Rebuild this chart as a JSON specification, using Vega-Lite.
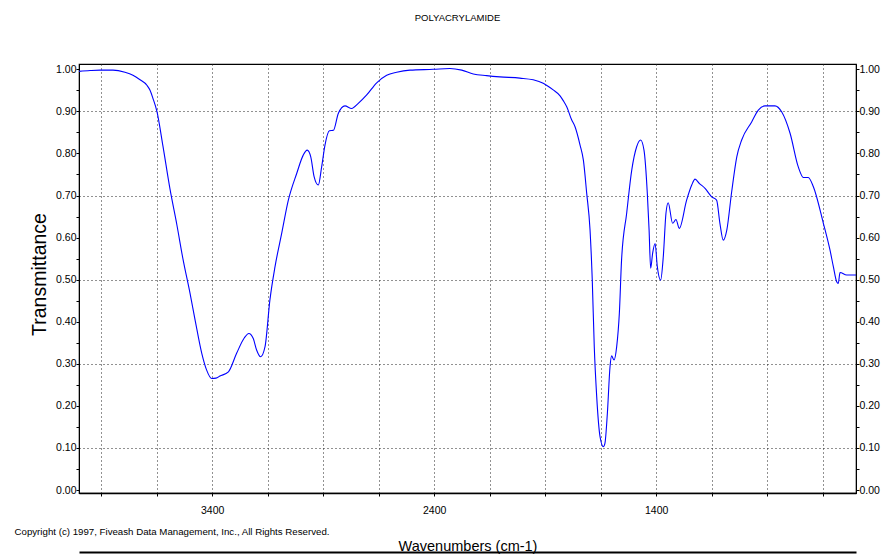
{
  "$schema": "https://vega.github.io/schema/vega-lite/v6.json",
  "width": 777,
  "height": 429,
  "autosize": {"type": "none"},
  "padding": {"left": 79, "top": 64, "right": 29, "bottom": 61},
  "background": "white",
  "title": {
    "text": "POLYACRYLAMIDE",
    "anchor": "middle",
    "frame": "group",
    "orient": "top",
    "baseline": "alphabetic",
    "offset": 34,
    "dx": -10,
    "font": "Liberation Sans",
    "fontSize": 9.5,
    "fontWeight": "normal",
    "color": "#000"
  },
  "config": {
    "view": {"stroke": "#000", "strokeWidth": 1.2},
    "axis": {"labelFont": "Liberation Sans", "labelFontSize": 10.5, "labelColor": "#000", "tickColor": "#000", "domainColor": "#000", "titleColor": "#000", "titleFontWeight": "normal"}
  },
  "data": {
    "values": [
      {"w": 4000, "t": 0.995}, {"w": 3950, "t": 0.997}, {"w": 3905, "t": 0.998}, {"w": 3847, "t": 0.998},
      {"w": 3793, "t": 0.993}, {"w": 3757, "t": 0.986}, {"w": 3725, "t": 0.975}, {"w": 3694, "t": 0.962},
      {"w": 3680, "t": 0.95}, {"w": 3667, "t": 0.931}, {"w": 3649, "t": 0.9}, {"w": 3622, "t": 0.818},
      {"w": 3590, "t": 0.715}, {"w": 3559, "t": 0.63}, {"w": 3532, "t": 0.55}, {"w": 3500, "t": 0.468},
      {"w": 3477, "t": 0.404}, {"w": 3447, "t": 0.325}, {"w": 3425, "t": 0.285}, {"w": 3402, "t": 0.265},
      {"w": 3383, "t": 0.266}, {"w": 3365, "t": 0.271}, {"w": 3327, "t": 0.281}, {"w": 3290, "t": 0.325},
      {"w": 3255, "t": 0.362}, {"w": 3235, "t": 0.372}, {"w": 3215, "t": 0.36}, {"w": 3200, "t": 0.333}, {"w": 3182, "t": 0.317},
      {"w": 3162, "t": 0.341}, {"w": 3140, "t": 0.452}, {"w": 3117, "t": 0.531}, {"w": 3087, "t": 0.61},
      {"w": 3057, "t": 0.689}, {"w": 3019, "t": 0.753}, {"w": 2990, "t": 0.796}, {"w": 2972, "t": 0.808},
      {"w": 2956, "t": 0.792}, {"w": 2941, "t": 0.745}, {"w": 2922, "t": 0.725}, {"w": 2907, "t": 0.768},
      {"w": 2892, "t": 0.82}, {"w": 2872, "t": 0.854}, {"w": 2854, "t": 0.855}, {"w": 2832, "t": 0.895},
      {"w": 2802, "t": 0.913}, {"w": 2772, "t": 0.907}, {"w": 2742, "t": 0.919}, {"w": 2704, "t": 0.939},
      {"w": 2659, "t": 0.968}, {"w": 2614, "t": 0.986}, {"w": 2569, "t": 0.993}, {"w": 2509, "t": 0.998},
      {"w": 2404, "t": 1.0}, {"w": 2329, "t": 1.002}, {"w": 2276, "t": 0.998}, {"w": 2224, "t": 0.989},
      {"w": 2164, "t": 0.985}, {"w": 2104, "t": 0.982}, {"w": 2014, "t": 0.979}, {"w": 1954, "t": 0.975},
      {"w": 1909, "t": 0.967}, {"w": 1864, "t": 0.951}, {"w": 1833, "t": 0.937}, {"w": 1818, "t": 0.925},
      {"w": 1803, "t": 0.911}, {"w": 1781, "t": 0.88}, {"w": 1766, "t": 0.864}, {"w": 1743, "t": 0.82},
      {"w": 1728, "t": 0.784}, {"w": 1713, "t": 0.705}, {"w": 1698, "t": 0.618}, {"w": 1688, "t": 0.499},
      {"w": 1679, "t": 0.341}, {"w": 1668, "t": 0.222}, {"w": 1653, "t": 0.127}, {"w": 1638, "t": 0.103},
      {"w": 1631, "t": 0.111}, {"w": 1620, "t": 0.182}, {"w": 1608, "t": 0.293}, {"w": 1601, "t": 0.319},
      {"w": 1590, "t": 0.309}, {"w": 1578, "t": 0.341}, {"w": 1566, "t": 0.42}, {"w": 1556, "t": 0.547},
      {"w": 1533, "t": 0.658}, {"w": 1510, "t": 0.761}, {"w": 1488, "t": 0.816}, {"w": 1470, "t": 0.832},
      {"w": 1455, "t": 0.808}, {"w": 1440, "t": 0.705}, {"w": 1432, "t": 0.618}, {"w": 1425, "t": 0.527},
      {"w": 1416, "t": 0.563}, {"w": 1405, "t": 0.586}, {"w": 1395, "t": 0.531}, {"w": 1380, "t": 0.499},
      {"w": 1368, "t": 0.555}, {"w": 1356, "t": 0.658}, {"w": 1346, "t": 0.683}, {"w": 1326, "t": 0.634},
      {"w": 1311, "t": 0.643}, {"w": 1296, "t": 0.622}, {"w": 1263, "t": 0.689}, {"w": 1240, "t": 0.725},
      {"w": 1225, "t": 0.739}, {"w": 1206, "t": 0.729}, {"w": 1180, "t": 0.717}, {"w": 1150, "t": 0.697},
      {"w": 1128, "t": 0.689}, {"w": 1113, "t": 0.634}, {"w": 1098, "t": 0.594}, {"w": 1082, "t": 0.618},
      {"w": 1060, "t": 0.709}, {"w": 1037, "t": 0.792}, {"w": 1015, "t": 0.832}, {"w": 970, "t": 0.875},
      {"w": 940, "t": 0.903}, {"w": 910, "t": 0.913}, {"w": 865, "t": 0.913}, {"w": 835, "t": 0.899},
      {"w": 797, "t": 0.848}, {"w": 760, "t": 0.768}, {"w": 737, "t": 0.743}, {"w": 715, "t": 0.743},
      {"w": 692, "t": 0.721}, {"w": 647, "t": 0.634}, {"w": 617, "t": 0.57}, {"w": 602, "t": 0.531},
      {"w": 587, "t": 0.495}, {"w": 580, "t": 0.491}, {"w": 572, "t": 0.517}, {"w": 542, "t": 0.511},
      {"w": 500, "t": 0.511}
    ]
  },
  "resolve": {"axis": {"x": "independent", "y": "independent"}},
  "layer": [
    {
      "mark": {"type": "line", "color": "#0000ff", "strokeWidth": 1.1, "interpolate": "monotone"},
      "encoding": {
        "x": {
          "field": "w", "type": "quantitative",
          "scale": {"domain": [500, 4000], "reverse": true, "nice": false, "zero": false},
          "axis": {
            "orient": "bottom",
            "values": [3900, 3650, 3400, 3150, 2900, 2650, 2400, 2150, 1900, 1650, 1400, 1150, 900, 650],
            "format": "d",
            "labelExpr": "datum.value == 3400 || datum.value == 2400 || datum.value == 1400 ? datum.label : ''",
            "grid": true, "gridDash": [1, 3], "gridColor": "#222", "gridWidth": 1, "gridOpacity": 1,
            "tickSize": 3, "labelPadding": 9, "labelFlush": false, "labelOverlap": false,
            "domainWidth": 1.5,
            "title": "Wavenumbers (cm-1)",
            "titleFont": "Liberation Sans", "titleFontSize": 14.5,
            "titleX": 388.5, "titleY": 57, "titleBaseline": "alphabetic", "titleAlign": "center"
          }
        },
        "y": {
          "field": "t", "type": "quantitative",
          "scale": {"domain": [-0.007, 1.0126], "nice": false, "zero": false},
          "axis": {
            "orient": "left",
            "values": [0, 0.05, 0.1, 0.15, 0.2, 0.25, 0.3, 0.35, 0.4, 0.45, 0.5, 0.55, 0.6, 0.65, 0.7, 0.75, 0.8, 0.85, 0.9, 0.95, 1.0],
            "format": ".2f",
            "labelExpr": "round(datum.value * 20) % 2 == 0 ? datum.label : ''",
            "grid": false, "tickSize": 3, "labelPadding": 0, "labelOverlap": false, "labelFlush": false,
            "title": "Transmittance",
            "titleFont": "Liberation Sans", "titleFontSize": 19.5,
            "titleAngle": 270, "titleX": -33.5, "titleY": 210, "titleBaseline": "alphabetic", "titleAlign": "center"
          }
        }
      }
    },
    {
      "mark": {"type": "line", "opacity": 0},
      "encoding": {
        "x": {
          "field": "w", "type": "quantitative",
          "axis": {
            "orient": "bottom", "domain": false, "ticks": false, "labels": false, "grid": false,
            "title": "Copyright (c) 1997, Fiveash Data Management, Inc., All Rights Reserved.",
            "titleFont": "Liberation Sans", "titleFontSize": 9.7,
            "titleX": -65, "titleY": 41, "titleAlign": "left", "titleBaseline": "alphabetic", "titleAngle": 0
          }
        },
        "y": {
          "field": "t", "type": "quantitative",
          "axis": {
            "orient": "right",
            "values": [0, 0.05, 0.1, 0.15, 0.2, 0.25, 0.3, 0.35, 0.4, 0.45, 0.5, 0.55, 0.6, 0.65, 0.7, 0.75, 0.8, 0.85, 0.9, 0.95, 1.0],
            "format": ".2f",
            "labelExpr": "round(datum.value * 20) % 2 == 0 ? datum.label : ''",
            "grid": false, "tickSize": 3, "labelPadding": 0, "labelOverlap": false, "labelFlush": false,
            "title": null
          }
        }
      }
    },
    {
      "mark": {"type": "line", "opacity": 0},
      "encoding": {
        "x": {
          "field": "w", "type": "quantitative",
          "axis": {
            "orient": "bottom", "offset": 59, "domain": true, "domainWidth": 2, "ticks": false, "labels": false, "grid": false, "title": null
          }
        },
        "y": {
          "field": "t", "type": "quantitative",
          "axis": {
            "orient": "left", "values": [0.1, 0.3, 0.5, 0.7, 0.9],
            "domain": false, "ticks": false, "labels": false,
            "grid": true, "gridDash": [1, 3], "gridColor": "#222", "gridWidth": 1, "gridOpacity": 1,
            "title": null
          }
        }
      }
    }
  ]
}
